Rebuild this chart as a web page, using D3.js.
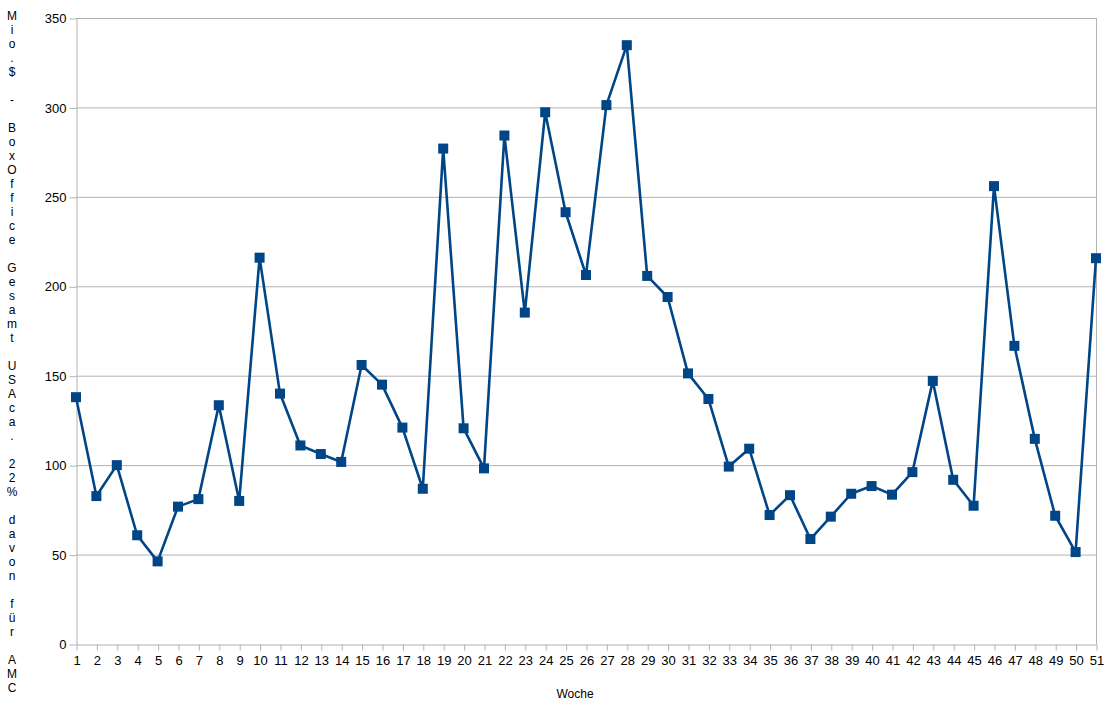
<!DOCTYPE html>
<html>
<head>
<meta charset="utf-8">
<script src="https://cdn.jsdelivr.net/npm/d3@7"></script>
<style>
  html, body { margin: 0; padding: 0; background: #fff; }
  svg { display: block; font-family: "Liberation Sans", Arial, sans-serif; }
</style>
</head>
<body>
<svg id="chart" width="1108" height="709"></svg>
<script>
// ---- data ----
const weeks = d3.range(1, 52);
const values = [138, 82.7, 100, 60.8, 46.2, 76.8, 81, 133.5, 80, 216,
                140, 111, 106.2, 101.8, 156, 145, 121, 86.8, 277, 120.6,
                98.2, 284.3, 185.3, 297.3, 241.4, 206.3, 301.3, 334.8, 205.8, 194,
                151.3, 137, 99.2, 109.2, 72.1, 83.2, 58.7, 71.2, 84, 88.3,
                83.5, 96.1, 147.1, 91.8, 77.3, 256, 166.7, 114.7, 71.7, 51.4,
                215.7];
const yTicks = [0, 50, 100, 150, 200, 250, 300, 350];
const xLabel = "Woche";
const yLabelChars = ["M","i","o",".","$"," ","-"," ","B","o","x","O","f","f","i","c","e"," ",
  "G","e","s","a","m","t"," ","U","S","A","c","a","."," ","2","2","%"," ",
  "d","a","v","o","n"," ","f","ü","r"," ","A","M","C"];

// ---- layout ----
const pL = 76, pR = 1096, pT = 18, pB = 644;
const svg = d3.select("#chart");
const x = d3.scaleLinear().domain([1, 51]).range([pL, pR]);
const y = d3.scaleLinear().domain([0, 350]).range([pB, pT]);
const grid = "#b3b3b3";

// gridlines
svg.append("g").selectAll("line").data(yTicks.filter(d => d > 0)).join("line")
  .attr("x1", pL).attr("x2", pR)
  .attr("y1", d => y(d) + 0.5).attr("y2", d => y(d) + 0.5)
  .attr("stroke", grid).attr("stroke-width", 1);

// right border
svg.append("line").attr("x1", pR + 0.5).attr("x2", pR + 0.5)
  .attr("y1", pT).attr("y2", pB).attr("stroke", grid);

// y axis
const yAxis = svg.append("g").attr("transform", `translate(${pL + 0.5},0.5)`)
  .call(d3.axisLeft(y).tickValues(yTicks).tickSize(7).tickPadding(3).tickSizeOuter(0));
yAxis.select(".domain").attr("stroke", grid);
yAxis.selectAll(".tick line").attr("stroke", grid);
yAxis.selectAll(".tick text").attr("fill", "#000").style("font-size", "13px")
  .style("font-family", "Liberation Sans, Arial, sans-serif");

// x axis
const xAxis = svg.append("g").attr("transform", `translate(0.5,${pB + 0.5})`)
  .call(d3.axisBottom(x).tickValues(weeks).tickFormat(d3.format("d")).tickSize(6).tickPadding(5).tickSizeOuter(0));
xAxis.select(".domain").attr("stroke", grid);
xAxis.selectAll(".tick line").attr("stroke", grid);
xAxis.selectAll(".tick text").attr("fill", "#000").style("font-size", "13px")
  .style("font-family", "Liberation Sans, Arial, sans-serif");

// axis titles
svg.append("text").attr("x", 575).attr("y", 698).attr("text-anchor", "middle")
  .style("font-size", "12px").text(xLabel);

const yt = svg.append("text").attr("x", 12).attr("y", 20).attr("text-anchor", "middle")
  .style("font-size", "12px");
yt.selectAll("tspan").data(yLabelChars).join("tspan")
  .attr("x", 12).attr("dy", (d, i) => i === 0 ? 0 : 14)
  .text(d => d === " " ? "\u00a0" : d);

// line
const data = weeks.map((w, i) => ({ w, v: values[i] }));
svg.append("path").datum(data)
  .attr("fill", "none").attr("stroke", "#004586").attr("stroke-width", 2.6)
  .attr("stroke-linejoin", "round")
  .attr("d", d3.line().x(d => x(d.w)).y(d => y(d.v)));

// markers
const ms = 10;
svg.append("g").selectAll("rect").data(data).join("rect")
  .attr("x", d => x(d.w) - ms / 2).attr("y", d => y(d.v) - ms / 2)
  .attr("width", ms).attr("height", ms)
  .attr("fill", "#004586");
</script>
</body>
</html>
